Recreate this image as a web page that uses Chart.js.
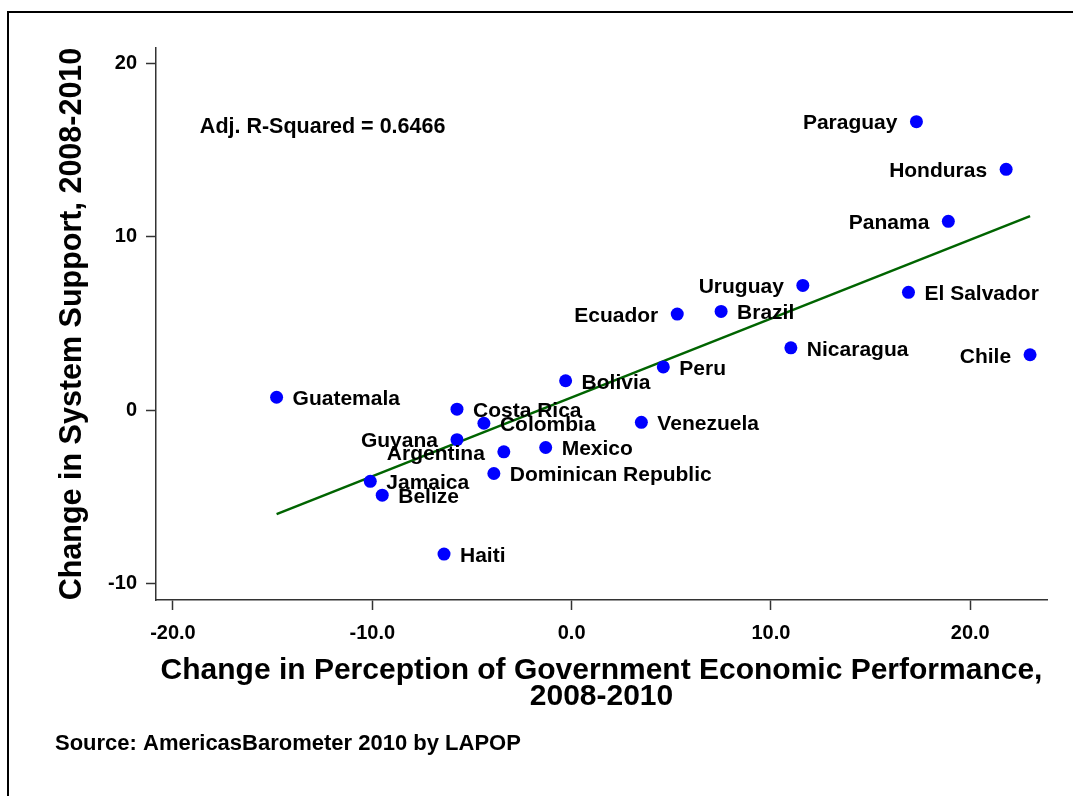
<!DOCTYPE html>
<html>
<head>
<meta charset="utf-8">
<script src="https://cdn.jsdelivr.net/npm/chart.js@4.4.0/dist/chart.umd.min.js"></script>
<style>
    html, body { margin: 0; padding: 0; background: #fff; overflow: hidden; }
    #frame { position: absolute; left: 7px; top: 11px; width: 1100px; height: 800px;
             border-top: 2px solid #000; border-left: 2px solid #000; }
    #wrap { position: absolute; left: 0; top: 0; width: 1073px; height: 796px; }
</style>
</head>
<body>
<div id="frame"></div>
<div id="wrap"><canvas id="myChart"></canvas></div>
<script>
// Country data: change in perception of economic performance (x) vs change in system support (y)
const countries = ['Paraguay', 'Honduras', 'Panama', 'El Salvador', 'Chile', 'Uruguay', 'Brazil',
    'Ecuador', 'Nicaragua', 'Peru', 'Bolivia', 'Guatemala', 'Costa Rica', 'Colombia', 'Venezuela',
    'Guyana', 'Argentina', 'Mexico', 'Dominican Republic', 'Jamaica', 'Belize', 'Haiti'];
const econChange = [17.3, 21.8, 18.9, 16.9, 23.0, 11.6, 7.5,
    5.3, 11.0, 4.6, -0.3, -14.8, -5.75, -4.4, 3.5,
    -5.75, -3.4, -1.3, -3.9, -10.1, -9.5, -6.4];
const supportChange = [16.65, 13.9, 10.9, 6.8, 3.2, 7.2, 5.7,
    5.55, 3.6, 2.5, 1.7, 0.75, 0.06, -0.75, -0.7,
    -1.7, -2.4, -2.15, -3.65, -4.1, -4.9, -8.3];

// Fitted regression line end points
const fitX = [-14.8, 23.0];
const fitY = [-6.0, 11.2];

const xTicks = [-20, -10, 0, 10, 20];
const yTicks = [-10, 0, 10, 20];

const fitNote = 'Adj. R-Squared = 0.6466';
const sourceNote = 'Source: AmericasBarometer 2010 by LAPOP';

// countries whose label sits to the left of the dot
const leftLabelled = ['Paraguay', 'Honduras', 'Panama', 'Chile', 'Uruguay', 'Ecuador', 'Guyana', 'Argentina'];

const FONT = '"Liberation Sans", Arial, Helvetica, sans-serif';
Chart.defaults.font.family = FONT;
Chart.defaults.color = '#000';

// Draw the country names, the R-squared note and the source line
const labelPlugin = {
    id: 'countryLabels',
    afterDatasetsDraw(chart) {
        const ctx = chart.ctx;
        const meta = chart.getDatasetMeta(0);
        ctx.save();
        ctx.fillStyle = '#000';
        ctx.textBaseline = 'middle';
        ctx.font = 'bold 21px ' + FONT;
        meta.data.forEach((pt, i) => {
            const left = leftLabelled.includes(countries[i]);
            ctx.textAlign = left ? 'right' : 'left';
            ctx.fillText(countries[i], pt.x + (left ? -19 : 16), pt.y + 2);
        });

        const xs = chart.scales.x;
        const ys = chart.scales.y;
        ctx.textAlign = 'left';
        ctx.font = 'bold 21.5px ' + FONT;
        ctx.fillText(fitNote, xs.getPixelForValue(-18.65), ys.getPixelForValue(16.36));

        ctx.font = 'bold 22px ' + FONT;
        ctx.fillText(sourceNote, 55, 744);
        ctx.restore();
    }
};

const points = countries.map((c, i) => ({ x: econChange[i], y: supportChange[i] }));
const fitLine = fitX.map((x, i) => ({ x: x, y: fitY[i] }));

const ctx = document.getElementById('myChart').getContext('2d');
new Chart(ctx, {
    type: 'scatter',
    data: {
        datasets: [
            {
                label: 'Countries',
                data: points,
                backgroundColor: '#0000ff',
                borderWidth: 0,
                pointRadius: 6.5,
                order: 0
            },
            {
                type: 'line',
                label: 'Fit',
                data: fitLine,
                borderColor: '#006400',
                borderWidth: 2.5,
                pointRadius: 0,
                fill: false,
                order: 1
            }
        ]
    },
    options: {
        responsive: true,
        maintainAspectRatio: false,
        animation: false,
        layout: {
            padding: { left: 0, top: 48, right: 26, bottom: 86 }
        },
        plugins: {
            legend: { display: false },
            tooltip: { enabled: false }
        },
        scales: {
            x: {
                type: 'linear',
                min: -20.85,
                max: 23.85,
                afterBuildTicks: axis => { axis.ticks = xTicks.map(v => ({ value: v })); },
                afterFit: axis => { axis.height = 110; },
                grid: {
                    drawOnChartArea: false,
                    drawTicks: true,
                    tickLength: 10,
                    tickColor: '#333',
                    tickWidth: 1.5
                },
                border: { display: true, color: '#333', width: 1.5 },
                ticks: {
                    color: '#000',
                    padding: 11,
                    maxRotation: 0,
                    font: { size: 20, weight: 'bold' },
                    callback: v => v.toFixed(1)
                },
                title: {
                    display: true,
                    text: ['Change in Perception of Government Economic Performance,', '2008-2010'],
                    color: '#000',
                    font: { size: 30, weight: 'bold', lineHeight: 0.88 },
                    padding: { top: 0, bottom: 0 }
                }
            },
            y: {
                type: 'linear',
                min: -10.95,
                max: 20.9,
                afterBuildTicks: axis => { axis.ticks = yTicks.map(v => ({ value: v })); },
                afterFit: axis => { axis.width = 156; },
                grid: {
                    drawOnChartArea: false,
                    drawTicks: true,
                    tickLength: 10,
                    tickColor: '#333',
                    tickWidth: 1.5
                },
                border: { display: true, color: '#333', width: 1.5 },
                ticks: {
                    color: '#000',
                    padding: 9,
                    font: { size: 20, weight: 'bold' }
                },
                title: {
                    display: true,
                    text: 'Change in System Support, 2008-2010',
                    color: '#000',
                    font: { size: 30.5, weight: 'bold', lineHeight: 1.2 },
                    padding: { top: 54, bottom: 0 }
                }
            }
        }
    },
    plugins: [labelPlugin]
});
</script>
</body>
</html>
